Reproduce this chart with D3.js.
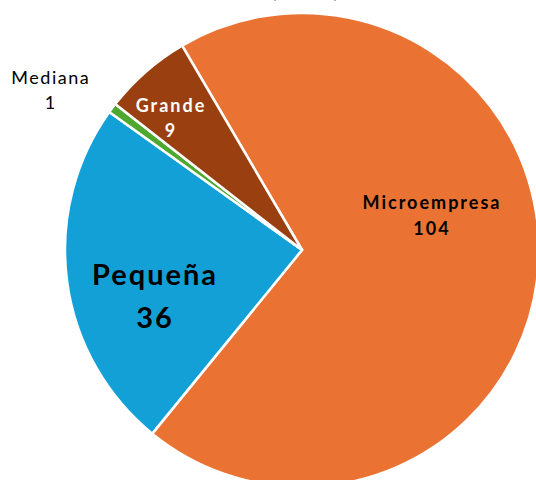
<!DOCTYPE html>
<html>
<head>
<meta charset="utf-8">
<script src="https://cdn.jsdelivr.net/npm/d3@7"></script>
<style>
  body { margin: 0; background: #fff; }
  svg { display: block; font-family: Lato, "Open Sans", sans-serif; }
</style>
</head>
<body>
<div id="chart"></div>
<script>
// data
var categories = ["Microempresa", "Pequeña", "Mediana", "Grande"];
var values = [104, 36, 1, 9];
var colors = ["#EA7334", "#12A0D7", "#4EA72E", "#9A3F10"];

var width = 536, height = 480;
var cx = 302, cy = 250, radius = 237;

var svg = d3.select("#chart").append("svg")
    .attr("width", width)
    .attr("height", height);

// title is cut off at the top, only the bottom of the brackets shows
svg.append("text")
    .attr("x", 305)
    .attr("y", -2)
    .attr("text-anchor", "middle")
    .style("font-size", "17px")
    .style("font-weight", "bold")
    .text("(n = 150)");

var g = svg.append("g").attr("transform", "translate(" + cx + "," + cy + ")");

var start = -30.4 * Math.PI / 180;
var pie = d3.pie().sort(null)
    .startAngle(start)
    .endAngle(start + 2 * Math.PI)
    .value(function(d) { return d.value; });

var data = categories.map(function(c, i) { return { name: c, value: values[i], color: colors[i] }; });

var arc = d3.arc().innerRadius(0).outerRadius(radius);

var slices = g.selectAll(".arc")
    .data(pie(data))
    .enter().append("g")
    .attr("class", "arc");

slices.append("path")
    .attr("d", arc)
    .attr("fill", function(d) { return d.data.color; })
    .attr("stroke", "#fff")
    .attr("stroke-width", 2.5)
    .attr("stroke-linejoin", "miter");

// label placement per slice, offsets from the pie centre
var labelStyle = {
  "Microempresa": { x: 129,  y: -41,  size: 18, fill: "#000", weight: "bold",   ls: 2,   dy: 26 },
  "Pequeña":      { x: -148, y: 35,   size: 29, fill: "#000", weight: "bold",   ls: 2,   dy: 43 },
  "Mediana":      { x: -252, y: -166, size: 18, fill: "#000", weight: "normal", ls: 1.5, dy: 25 },
  "Grande":       { x: -132, y: -138, size: 18, fill: "#fff", weight: "bold",   ls: 2,   dy: 25 }
};

var labels = slices.append("text")
    .attr("transform", function(d) {
      var s = labelStyle[d.data.name];
      return "translate(" + (s.x + s.ls / 2) + "," + s.y + ")";
    })
    .attr("text-anchor", "middle")
    .style("font-size", function(d) { return labelStyle[d.data.name].size + "px"; })
    .style("font-weight", function(d) { return labelStyle[d.data.name].weight; })
    .style("letter-spacing", function(d) { return labelStyle[d.data.name].ls + "px"; })
    .attr("fill", function(d) { return labelStyle[d.data.name].fill; });

labels.append("tspan")
    .attr("x", 0)
    .attr("y", 0)
    .text(function(d) { return d.data.name; });

labels.append("tspan")
    .attr("x", 0)
    .attr("y", function(d) { return labelStyle[d.data.name].dy; })
    .text(function(d) { return d.data.value; });
</script>
</body>
</html>
